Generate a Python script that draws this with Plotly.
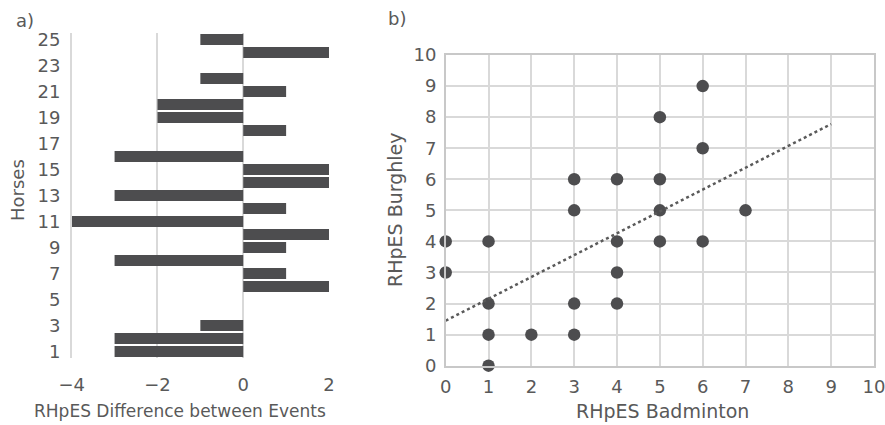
import plotly.graph_objects as go
import numpy as np

# ---- data: panel a ----
horses = list(range(1, 26))
diff = [-3, -3, -1, 0, 0, 2, 1, -3, 1, 2, -4, 1, -3, 2, 2, -3, 0, 1, -2, -2, 1, -1, 0, 2, -1]
horse_ticks = list(range(1, 26, 2))

# ---- data: panel b ----
badminton = [0, 0, 1, 1, 1, 1, 2, 3, 3, 3, 3, 4, 4, 4, 4, 5, 5, 5, 5, 6, 6, 6, 7]
burghley = [4, 3, 4, 2, 1, 0, 1, 1, 2, 5, 6, 6, 4, 3, 2, 8, 6, 5, 4, 9, 7, 4, 5]
trend_slope = 0.703
trend_intercept = 1.45
trend_x = [0, 9]

W, H = 885, 425
FONT = "DejaVu Sans"
TXT = "#595959"
GRID = "#d9d9d9"
AXL = "#c8c8c8"
DARK = "#4d4d4f"

def px(x):
    return x / W

def py(y):
    return 1 - y / H

fig = go.Figure()

fig.add_trace(go.Bar(
    x=diff, y=horses, orientation="h",
    marker=dict(color=DARK, line=dict(width=0)),
    xaxis="x", yaxis="y", showlegend=False,
))

fig.add_trace(go.Scatter(
    x=badminton, y=burghley, mode="markers",
    marker=dict(color=DARK, size=12.5),
    cliponaxis=False,
    xaxis="x2", yaxis="y2", showlegend=False,
))

tx = np.array(trend_x, dtype=float)
fig.add_trace(go.Scatter(
    x=tx, y=trend_intercept + trend_slope * tx, mode="lines",
    line=dict(color="#5a5a5a", width=2.5, dash="dot"),
    xaxis="x2", yaxis="y2", showlegend=False,
))

tickfont = dict(family=FONT, size=18, color=TXT)

fig.update_layout(
    width=W, height=H,
    margin=dict(l=0, r=0, t=0, b=0),
    paper_bgcolor="white", plot_bgcolor="white",
    bargap=0.15,
    font=dict(family=FONT, color=TXT),
    xaxis=dict(
        domain=[px(71.7), px(329)], range=[-4, 2], tickvals=[-4, -2, 0, 2],
        showgrid=True, gridcolor=GRID, gridwidth=1.5,
        zeroline=True, zerolinecolor=GRID, zerolinewidth=1.5,
        showline=False, ticks="", tickfont=tickfont, ticklabelstandoff=14,
        anchor="y", automargin=False,
    ),
    yaxis=dict(
        domain=[py(358), py(33)], range=[0.5, 25.5], tickvals=horse_ticks,
        showgrid=False, zeroline=False,
        showline=True, linecolor=GRID, linewidth=1.5,
        ticks="", tickfont=tickfont, ticklabelstandoff=6,
        anchor="x", automargin=False,
    ),
    xaxis2=dict(
        domain=[px(445.7), px(874)], range=[0, 10], dtick=1,
        showgrid=True, gridcolor=GRID, gridwidth=1.5,
        zeroline=False, showline=True, linecolor=AXL, linewidth=1.5,
        mirror=True, ticks="", tickfont=tickfont, ticklabelstandoff=4,
        ticklabeloverflow="allow",
        anchor="y2", automargin=False,
    ),
    yaxis2=dict(
        domain=[py(365.7), py(55)], range=[0, 10], dtick=1,
        showgrid=True, gridcolor=GRID, gridwidth=1.5,
        zeroline=False, showline=True, linecolor=AXL, linewidth=1.5,
        mirror=True, ticks="", tickfont=tickfont, ticklabelstandoff=4,
        anchor="x2", automargin=False,
    ),
)

annots = [
    dict(text="a)", x=px(25), y=py(20), size=18),
    dict(text="b)", x=px(397), y=py(18), size=18),
    dict(text="RHpES Difference between Events", x=px(180), y=py(411), size=17),
    dict(text="RHpES Badminton", x=px(662), y=py(411), size=19),
    dict(text="Horses", x=px(18), y=py(190), textangle=-90, size=18),
    dict(text="RHpES Burghley", x=px(395), y=py(210), textangle=-90, size=19),
]
for a in annots:
    size = a.pop("size")
    fig.add_annotation(xref="paper", yref="paper", showarrow=False,
                       xanchor="center", yanchor="middle",
                       font=dict(family=FONT, size=size, color=TXT), **a)

fig.write_html("out.html")
